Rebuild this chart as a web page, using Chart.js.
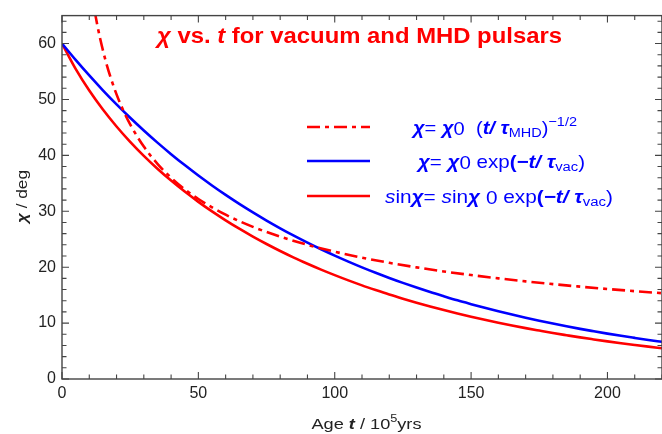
<!DOCTYPE html>
<html>
<head>
<meta charset="utf-8">
<script src="https://cdn.jsdelivr.net/npm/chart.js@4.4.1/dist/chart.umd.min.js"></script>
<style>
  html, body { margin: 0; padding: 0; background: #fff; }
</style>
</head>
<body>
<canvas id="chart" width="662" height="434"></canvas>
<script>
// Age t in units of 10^5 yrs
const ages = [0, 5, 10, 15, 20, 25, 30, 35, 40, 45, 50, 55, 60, 65, 70, 75, 80, 85, 90, 95, 100,
  105, 110, 115, 120, 125, 130, 135, 140, 145, 150, 155, 160, 165, 170, 175, 180, 185, 190, 195, 200,
  205, 210, 215, 220]

// chi = chi0 exp(-t/tau_vac)   (blue)
const chiVac = [60.00, 57.07, 54.29, 51.64, 49.12, 46.73, 44.45, 42.28, 40.22, 38.26, 36.39, 34.62,
  32.93, 31.32, 29.80, 28.34, 26.96, 25.64, 24.39, 23.20, 22.07, 21.00, 19.97, 19.00, 18.07, 17.19,
  16.35, 15.55, 14.80, 14.07, 13.39, 12.73, 12.11, 11.52, 10.96, 10.43, 9.92, 9.43, 8.97, 8.54, 8.12,
  7.72, 7.35, 6.99, 6.65]

// sin chi = sin chi0 exp(-t/tau_vac)   (red solid)
const chiSin = [60.00, 55.47, 51.59, 48.19, 45.16, 42.41, 39.91, 37.61, 35.49, 33.52, 31.69, 29.98,
  28.38, 26.88, 25.47, 24.15, 22.90, 21.72, 20.62, 19.57, 18.58, 17.64, 16.75, 15.92, 15.12, 14.37,
  13.65, 12.97, 12.33, 11.72, 11.14, 10.59, 10.07, 9.57, 9.10, 8.66, 8.23, 7.83, 7.44, 7.08, 6.73,
  6.40, 6.09, 5.79, 5.51]

// chi = chi0 (t/tau_MHD)^-1/2   (red dot-dash)
const mhdAges = [12, 13, 14, 16, 18, 20, 22.5, 25, 30, 35, 40, 45, 50, 60, 70, 80, 90, 100, 110,
  120, 130, 140, 150, 160, 170, 180, 190, 200, 210, 220]
const chiMhd = [65.73, 63.15, 60.85, 56.92, 53.67, 50.91, 48.00, 45.54, 41.57, 38.49, 36.00, 33.94,
  32.20, 29.39, 27.21, 25.46, 24.00, 22.77, 21.71, 20.78, 19.97, 19.24, 18.59, 18.00, 17.46, 16.97,
  16.52, 16.10, 15.71, 15.35]

const FONT = '"Liberation Sans", Arial, sans-serif'
const RED = "#ff0000"
const BLUE = "#0000ff"

function toPoints(xs, ys) {
  return xs.map((x, i) => ({ x: x, y: ys[i] }))
}

// Draw a line of mixed-style text centred on x; parts = [text, style, scale, dy].
// Stretched sideways to `width` (the original is set wider than Arial).
function drawRich(ctx, parts, x, y, size, color, width) {
  const fontOf = (p) => `${p[1] || ""} ${size * (p[2] || 1)}px ${FONT}`
  let w = 0
  parts.forEach((p) => {
    ctx.font = fontOf(p)
    w += ctx.measureText(p[0]).width
  })
  const k = width ? width / w : 1
  ctx.save()
  ctx.translate(x - (w * k) / 2, y)
  ctx.scale(k, 1)
  ctx.fillStyle = color
  ctx.textBaseline = "alphabetic"
  ctx.textAlign = "left"
  let cx = 0
  parts.forEach((p) => {
    ctx.font = fontOf(p)
    ctx.fillText(p[0], cx, p[3] || 0)
    cx += ctx.measureText(p[0]).width
  })
  ctx.restore()
}

const titleParts = [["χ", "bold italic"], [" vs. ", "bold"], ["t", "bold italic"], [" for vacuum and MHD pulsars", "bold"]]
const legendRows = [
  [["χ", "bold italic"], ["= ", ""], ["χ", "bold italic"], ["0", "", 1, 1], ["  (", ""], ["t/ ", "bold italic"],
    ["τ", "bold italic"], ["MHD", "", 0.72, 3], [")", ""], ["−1/2", "", 0.72, -8]],
  [["χ", "bold italic"], ["= ", ""], ["χ", "bold italic"], ["0", "", 1, 1], [" exp", ""], ["(", "bold"],
    ["−t/ ", "bold italic"], ["τ", "bold italic"], ["vac", "", 0.72, 3], [")", ""]],
  [["s", "italic"], ["in", ""], ["χ", "bold italic"], ["= ", ""], ["s", "italic"], ["in", ""], ["χ", "bold italic"],
    [" 0", "", 1, 1], [" exp", ""], ["(", "bold"], ["−t/ ", "bold italic"], ["τ", "bold italic"], ["vac", "", 0.72, 3], [")", ""]],
]
const legendWidths = [164, 167, 228]
const xTitleParts = [["Age ", ""], ["t", "bold italic"], [" / 10", ""], ["5", "", 0.7, -7], ["yrs", ""]]
const yTitleParts = [["χ", "bold italic"], [" / deg", ""]]

// frame, inward ticks, title, legend and axis titles
const decorPlugin = {
  id: "decor",
  afterDatasetsDraw(chart) {
    const { ctx, chartArea: a, scales } = chart
    const xs = scales.x
    const ys = scales.y
    ctx.save()
    ctx.strokeStyle = "#444"
    ctx.lineWidth = 1.4
    ctx.strokeRect(a.left, a.top, a.right - a.left, a.bottom - a.top)

    ctx.lineWidth = 1.1
    ctx.beginPath()
    for (let v = 0; v <= xs.max; v += 10) {
      const px = xs.getPixelForValue(v)
      const len = v % 50 === 0 ? 7 : 4.5
      ctx.moveTo(px, a.bottom); ctx.lineTo(px, a.bottom - len)
      ctx.moveTo(px, a.top); ctx.lineTo(px, a.top + len)
    }
    for (let v = 0; v <= ys.max; v += 2) {
      const py = ys.getPixelForValue(v)
      const len = v % 10 === 0 ? 7 : 4.5
      ctx.moveTo(a.left, py); ctx.lineTo(a.left + len, py)
      ctx.moveTo(a.right, py); ctx.lineTo(a.right - len, py)
    }
    ctx.stroke()

    drawRich(ctx, titleParts, 359.5, 43, 22, RED, 405)

    // legend
    const ds = chart.data.datasets
    const rowY = [127, 161, 196]
    const rowX = [495, 501.5, 499]
    ds.forEach((d, i) => {
      ctx.strokeStyle = d.borderColor
      ctx.lineWidth = d.borderWidth
      ctx.setLineDash(d.borderDash || [])
      ctx.beginPath()
      ctx.moveTo(307, rowY[i])
      ctx.lineTo(370, rowY[i])
      ctx.stroke()
      ctx.setLineDash([])
      drawRich(ctx, legendRows[i], rowX[i], rowY[i] + 7, 18.5, BLUE, legendWidths[i])
    })

    drawRich(ctx, xTitleParts, 366.5, 429, 15.5, "#222", 110)
    ctx.translate(22, 196.5)
    ctx.rotate(-Math.PI / 2)
    drawRich(ctx, yTitleParts, 0, 5, 15.5, "#222", 53)
    ctx.restore()
  },
}

const ctx = document.getElementById("chart").getContext("2d")
new Chart(ctx, {
  type: "line",
  data: {
    datasets: [
      {
        label: "MHD",
        data: toPoints(mhdAges, chiMhd),
        borderColor: RED,
        borderWidth: 2.6,
        borderDash: [13, 5, 4, 5],
        pointRadius: 0,
        cubicInterpolationMode: "monotone",
        fill: false,
      },
      {
        label: "vacuum",
        data: toPoints(ages, chiVac),
        borderColor: BLUE,
        borderWidth: 2.6,
        pointRadius: 0,
        cubicInterpolationMode: "monotone",
        fill: false,
      },
      {
        label: "vacuum sin",
        data: toPoints(ages, chiSin),
        borderColor: RED,
        borderWidth: 2.6,
        pointRadius: 0,
        cubicInterpolationMode: "monotone",
        fill: false,
      },
    ],
  },
  options: {
    responsive: false,
    animation: false,
    layout: { padding: { left: 0, right: 0, top: 6, bottom: 0 } },
    plugins: { legend: { display: false }, tooltip: { enabled: false } },
    scales: {
      x: {
        type: "linear",
        min: 0,
        max: 220,
        grid: { display: false, drawTicks: false },
        border: { display: false },
        ticks: { stepSize: 50, includeBounds: false, padding: 5, color: "#222", font: { family: FONT, size: 16 }, maxRotation: 0 },
        afterFit(scale) { scale.height = 55 },
      },
      y: {
        type: "linear",
        min: 0,
        max: 65,
        grid: { display: false, drawTicks: false },
        border: { display: false },
        ticks: { stepSize: 10, includeBounds: false, padding: 6, color: "#222", font: { family: FONT, size: 16 } },
        afterFit(scale) { scale.width = 62 },
      },
    },
  },
  plugins: [decorPlugin],
})
</script>
</body>
</html>
